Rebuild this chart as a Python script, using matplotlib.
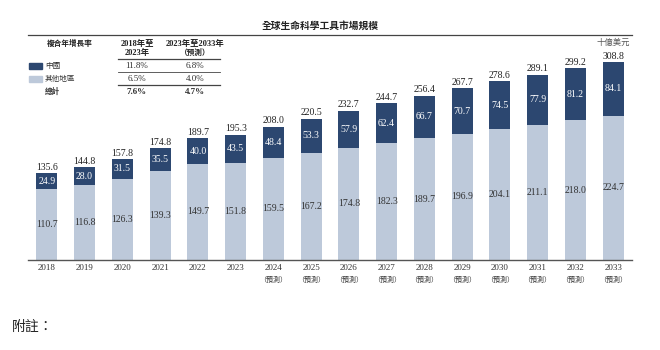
import matplotlib.pyplot as plt
from matplotlib.lines import Line2D
from matplotlib.patches import Rectangle

plt.rcParams['font.family'] = ['Liberation Serif', 'Noto Sans CJK TC']

years = ["2018", "2019", "2020", "2021", "2022", "2023", "2024", "2025",
         "2026", "2027", "2028", "2029", "2030", "2031", "2032", "2033"]
forecast = [False] * 6 + [True] * 10
china = [24.9, 28.0, 31.5, 35.5, 40.0, 43.5, 48.4, 53.3,
         57.9, 62.4, 66.7, 70.7, 74.5, 77.9, 81.2, 84.1]
other = [110.7, 116.8, 126.3, 139.3, 149.7, 151.8, 159.5, 167.2,
         174.8, 182.3, 189.7, 196.9, 204.1, 211.1, 218.0, 224.7]
totals = [135.6, 144.8, 157.8, 174.8, 189.7, 195.3, 208.0, 220.5,
          232.7, 244.7, 256.4, 267.7, 278.6, 289.1, 299.2, 308.8]

cagr_rows = ["中國", "其他地區", "總計"]
cagr_1823 = ["11.8%", "6.5%", "7.6%"]
cagr_2333 = ["6.8%", "4.0%", "4.7%"]

DARK = "#2c4770"
LIGHT = "#bdc9da"
W, H = 660, 350


def fx(x):
    return x / W


def fy(y):
    return 1 - y / H


fig = plt.figure(figsize=(6.6, 3.5), dpi=100)
ax = fig.add_axes([fx(28), fy(260), fx(632) - fx(28), fy(40) - fy(260)])

x = list(range(len(years)))
ax.bar(x, other, width=0.56, color=LIGHT)
ax.bar(x, china, bottom=other, width=0.56, color=DARK)

for i in x:
    ax.text(i, other[i] / 2, f"{other[i]:.1f}", ha="center", va="center",
            fontsize=7, color="#333333")
    ax.text(i, other[i] + china[i] / 2, f"{china[i]:.1f}", ha="center",
            va="center", fontsize=7, color="white")
    ax.text(i, totals[i] + 2, f"{totals[i]:.1f}", ha="center", va="bottom",
            fontsize=7, color="#222222")
    # year labels, forecast marker on its own line
    ax.annotate(years[i], xy=(i, 0), xycoords=("data", "axes fraction"),
                xytext=(0, -6), textcoords="offset points", ha="center",
                va="center", fontsize=6.5, color="#333333")
    if forecast[i]:
        ax.annotate("（預測）", xy=(i, 0), xycoords=("data", "axes fraction"),
                    xytext=(0, -14), textcoords="offset points", ha="center",
                    va="center", fontsize=5, color="#333333")

ax.set_xlim(-0.5, 15.5)
ax.set_ylim(0, 343)
ax.set_xticks([])
ax.set_yticks([])
for s in ["top", "right", "left"]:
    ax.spines[s].set_visible(False)
ax.spines["bottom"].set_color("#555555")
ax.spines["bottom"].set_linewidth(1.0)

# title and unit
fig.text(fx(320), fy(26), "全球生命科學工具市場規模", ha="center", va="center",
         fontsize=7, fontweight="bold", color="#222222")
fig.add_artist(Line2D([fx(28), fx(632)], [fy(35), fy(35)], color="#444444", lw=0.9))
fig.text(fx(630), fy(43), "十億美元", ha="right", va="center", fontsize=6,
         color="#555555")

# CAGR table
fig.text(fx(70), fy(44), "複合年增長率", ha="center", va="center", fontsize=5.5,
         fontweight="bold", color="#222222")
fig.text(fx(137), fy(44), "2018年至", ha="center", va="center",
         fontsize=6, fontweight="bold", color="#222222")
fig.text(fx(137), fy(53), "2023年", ha="center", va="center",
         fontsize=6, fontweight="bold", color="#222222")
fig.text(fx(195), fy(44), "2023年至2033年", ha="center", va="center",
         fontsize=6, fontweight="bold", color="#222222")
fig.text(fx(195), fy(53), "（預測）", ha="center", va="center",
         fontsize=5.5, fontweight="bold", color="#222222")

row_y = [66, 79, 92]
swatch = [DARK, LIGHT, None]
for r, (lab, a, b) in enumerate(zip(cagr_rows, cagr_1823, cagr_2333)):
    bold = "bold" if r == 2 else "normal"
    if swatch[r]:
        fig.add_artist(Rectangle((fx(29), fy(row_y[r] + 3)), fx(13), fy(0) - fy(6),
                                 color=swatch[r], transform=fig.transFigure))
    fig.text(fx(45), fy(row_y[r]), lab, ha="left", va="center", fontsize=5.5,
             fontweight=bold, color="#333333")
    fig.text(fx(137), fy(row_y[r]), a, ha="center", va="center", fontsize=6.5,
             fontweight=bold, color="#333333")
    fig.text(fx(195), fy(row_y[r]), b, ha="center", va="center", fontsize=6.5,
             fontweight=bold, color="#333333")

for ly, lw in [(59, 0.9), (72, 0.6), (85, 0.9)]:
    fig.add_artist(Line2D([fx(118), fx(220)], [fy(ly), fy(ly)], color="#444444", lw=lw))

fig.text(fx(12), fy(327), "附註：", ha="left", va="center", fontsize=10,
         style="italic", color="#222222")

fig.savefig("out.png", dpi=100)
